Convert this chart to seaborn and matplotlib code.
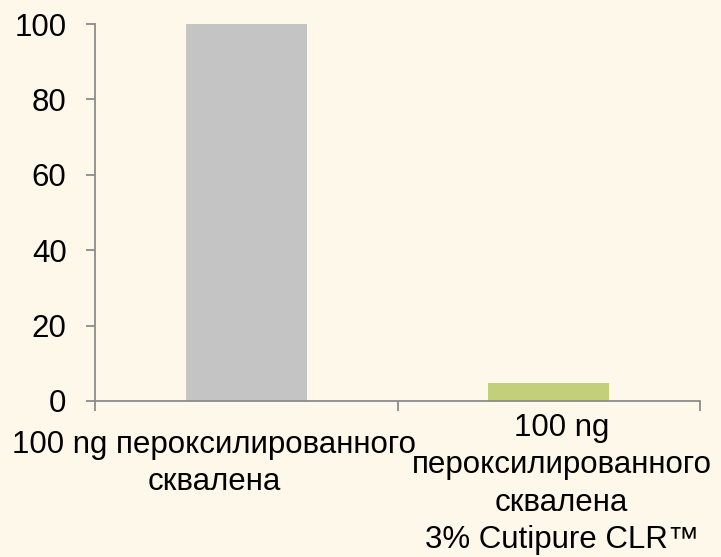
import pandas as pd
import seaborn as sns
import matplotlib.pyplot as plt
from matplotlib.transforms import ScaledTranslation

categories = ["100 ng пероксилированного\nсквалена",
              "100 ng\nпероксилированного\nсквалена\n3% Cutipure CLR™"]
values = [100, 4.8]
bar_colors = ["#C4C4C4", "#C4CF7A"]
y_ticks = [0, 20, 40, 60, 80, 100]

BG = "#FEF8EB"
SPINE = "#8C8C8C"

sns.set_style("white")
plt.rcParams['font.family'] = ['Liberation Sans', 'DejaVu Sans']
plt.rcParams['text.color'] = 'black'

df = pd.DataFrame({"cat": categories, "val": values})

fig = plt.figure(figsize=(7.21, 5.57), dpi=100, facecolor=BG)
ax = fig.add_axes([95 / 721, 1 - 401 / 557, 605 / 721, 377 / 557])
ax.set_facecolor(BG)

sns.barplot(data=df, x="cat", y="val", hue="cat", palette=bar_colors,
            width=0.4, legend=False, ax=ax, saturation=1, linewidth=0)

ax.set_xlim(-0.5, 1.5)
ax.set_ylim(0, 100)
ax.set_yticks(y_ticks)
ax.set_xlabel("")
ax.set_ylabel("")

for s in ["top", "right"]:
    ax.spines[s].set_visible(False)
for s in ["left", "bottom"]:
    ax.spines[s].set_color(SPINE)
    ax.spines[s].set_linewidth(1.3)

ax.tick_params(axis="y", direction="out", length=6.5, width=1.3, color=SPINE,
               labelsize=22.5, pad=14, left=True, labelcolor="black")
ax.set_xticks([-0.5, 0.5, 1.5], minor=True)
ax.tick_params(axis="x", which="minor", direction="out", length=7.2, width=1.3,
               color=SPINE, bottom=True)
ax.tick_params(axis="x", which="major", length=0, labelsize=22.5, pad=4,
               labelcolor="black")

# shift category labels to match the reference layout
offsets = [(-32, -23), (13, -6)]
for lab, (dx, dy) in zip(ax.get_xticklabels(), offsets):
    lab.set_linespacing(1.33)
    lab.set_transform(lab.get_transform() +
                      ScaledTranslation(dx / 100, dy / 100, fig.dpi_scale_trans))

fig.savefig("out.png", dpi=100, facecolor=BG)
